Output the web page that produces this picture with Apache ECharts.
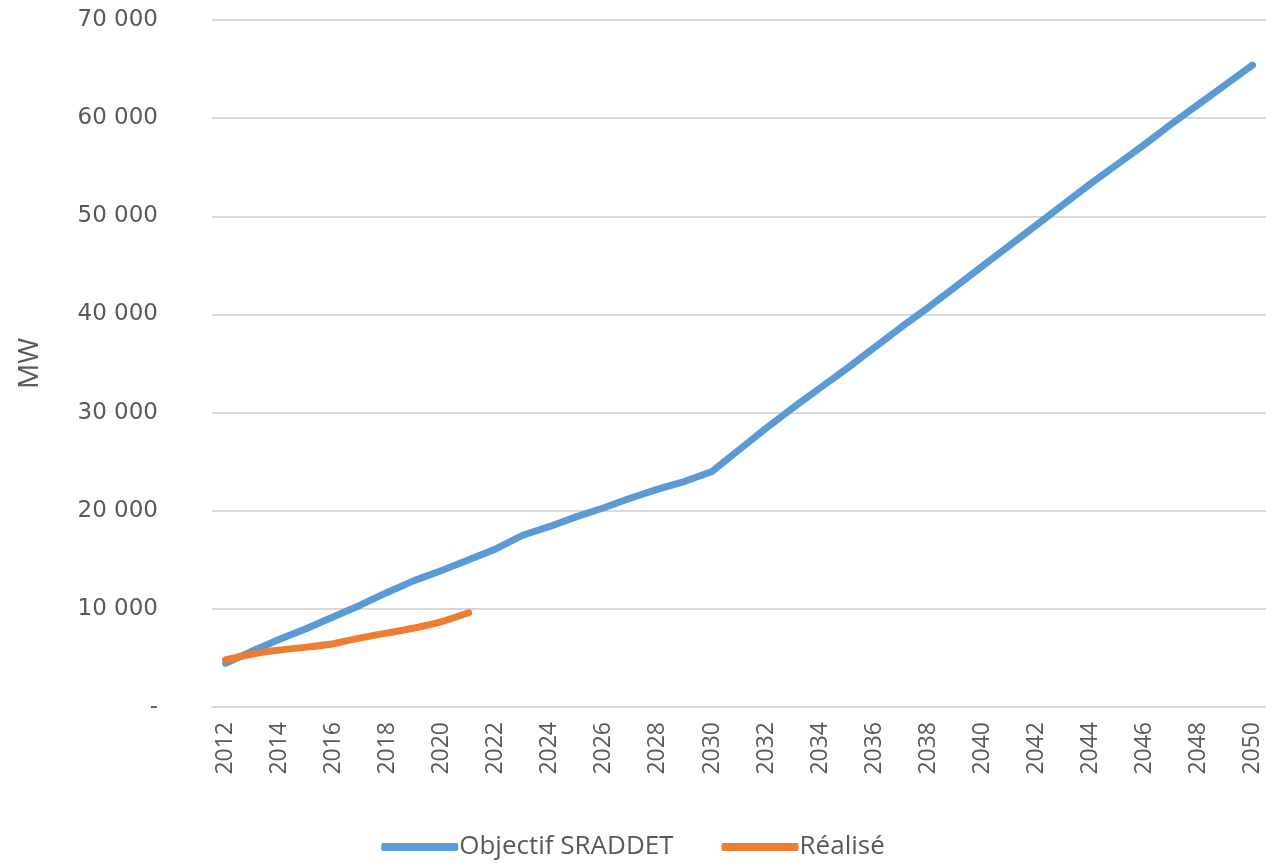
<!DOCTYPE html>
<html>
<head>
<meta charset="utf-8">
<script src="https://cdn.jsdelivr.net/npm/echarts@6/dist/echarts.min.js"></script>
<style>
    html, body { margin: 0; padding: 0; background: #fff; }
    #chart { width: 1266px; height: 865px; }
</style>
</head>
<body>
<div id="chart"></div>
<script>
var years = [];
for (var y = 2012; y <= 2050; y++) years.push(String(y));

// Objectif SRADDET (MW)
var objectif = [
    4450, 5700, 6900, 8000, 9200, 10400, 11700, 12900, 13900, 15000,
    16100, 17500, 18400, 19400, 20300, 21300, 22200, 23000, 24000, 26200,
    28400, 30500, 32500, 34500, 36600, 38700, 40700, 42800, 44900, 47000,
    49100, 51200, 53300, 55300, 57300, 59400, 61400, 63400, 65400
];
// Réalisé (MW), 2012-2021
var realise = [4800, 5400, 5800, 6100, 6450, 7050, 7550, 8050, 8700, 9600];

var grey = '#595959';
var font = 'Open Sans';

function fmt(v) {
    if (v === 0) return '-';
    return String(v).replace(/\B(?=(\d{3})+(?!\d))/g, ' ');
}

var option = {
    animation: false,
    grid: { left: 212, right: 0, top: 20, bottom: 158 },
    legend: {
        bottom: 0,
        left: 'center',
        icon: 'roundRect',
        itemWidth: 77,
        itemHeight: 8,
        itemGap: 48,
        textStyle: { color: grey, fontSize: 26, fontFamily: font, padding: [0, 0, 0, -4] },
        data: ['Objectif SRADDET', 'Réalisé']
    },
    xAxis: {
        type: 'category',
        data: years,
        boundaryGap: true,
        axisLine: { lineStyle: { color: '#d9d9d9', width: 2 } },
        axisTick: { show: false },
        axisLabel: { interval: 1, rotate: 90, margin: 15, color: grey, fontSize: 23, fontFamily: font }
    },
    yAxis: {
        type: 'value',
        min: 0,
        max: 70000,
        interval: 10000,
        name: 'MW',
        nameLocation: 'middle',
        nameGap: 168,
        nameTextStyle: { color: grey, fontSize: 28, fontFamily: font },
        axisLine: { show: false },
        axisTick: { show: false },
        splitLine: { lineStyle: { color: '#d9d9d9', width: 2 } },
        axisLabel: { margin: 54, color: grey, fontSize: 23, fontFamily: 'DejaVu Sans', formatter: fmt }
    },
    series: [
        {
            name: 'Objectif SRADDET',
            type: 'line',
            data: objectif,
            symbol: 'none',
            color: '#5B9BD5',
            lineStyle: { width: 7, cap: 'round', join: 'round' }
        },
        {
            name: 'Réalisé',
            type: 'line',
            data: realise,
            symbol: 'none',
            smooth: 0.2,
            color: '#ED7D31',
            lineStyle: { width: 7, cap: 'round', join: 'round' }
        }
    ]
};

echarts.init(document.getElementById('chart')).setOption(option);
</script>
</body>
</html>
